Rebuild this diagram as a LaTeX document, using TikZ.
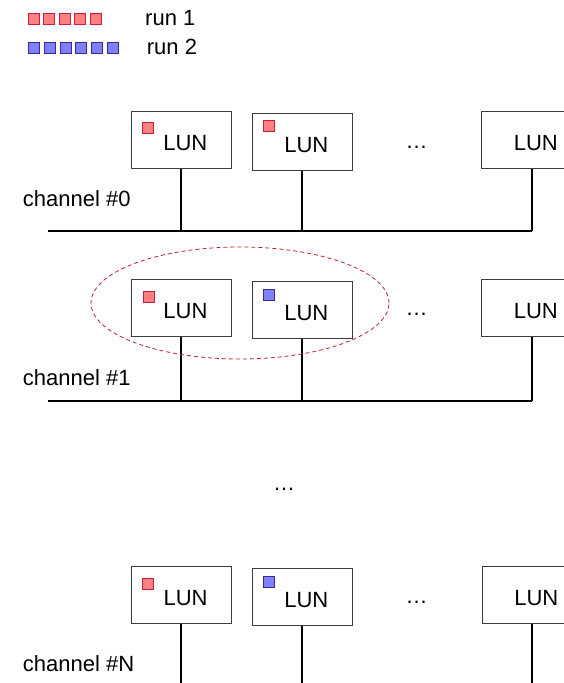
\documentclass[tikz,border=0pt]{standalone}
\usepackage{fontspec}
\setmainfont{Liberation Sans}
\usetikzlibrary{shapes.geometric}

\definecolor{redfill}{RGB}{255,128,128}
\definecolor{redline}{RGB}{200,30,60}
\definecolor{bluefill}{RGB}{128,128,255}
\definecolor{blueline}{RGB}{60,40,140}
\definecolor{boxline}{RGB}{60,60,60}
\definecolor{groupline}{RGB}{190,30,50}

\tikzset{
  lunbox/.style={draw=boxline, line width=1pt, minimum width=100pt,
    minimum height=57pt, inner sep=0pt},
  lunlabel/.style={anchor=base, inner sep=0pt},
  txt/.style={anchor=base west, inner sep=0pt},
  dots/.style={anchor=base, inner sep=0pt},
  sqred/.style={draw=redline, fill=redfill, line width=0.8pt,
    minimum size=11pt, inner sep=0pt},
  sqblue/.style={draw=blueline, fill=bluefill, line width=0.8pt,
    minimum size=11pt, inner sep=0pt},
  wire/.style={line width=2pt},
  group/.style={draw=groupline, line width=0.8pt, dash pattern=on 4pt off 3pt,
    ellipse, minimum width=298pt, minimum height=112pt, inner sep=0pt},
}

\begin{document}
\begin{tikzpicture}[x=1pt, y=-1pt, font=\fontsize{22}{26}\selectfont]
  \clip (0,0) rectangle (564,683);

  % legend
  \foreach \i in {0,...,4}
    \node[sqred] (lr\i) at (33.8+15.5*\i, 18.5) {};
  \foreach \i in {0,...,5}
    \node[sqblue] (lb\i) at (33.8+15.8*\i, 48) {};
  \node[txt] (run1) at (145, 25) {run 1};
  \node[txt] (run2) at (146.7, 54) {run 2};

  % ---- channel #0 ----
  \node[lunbox] (b01) at (181, 139.5) {};
  \node[lunbox] (b02) at (302, 141.5) {};
  \node[lunbox] (b03) at (531.5, 139.5) {};
  \foreach \b in {b01,b02,b03}
    \node[lunlabel] (\b l) at ([xshift=4.3pt, yshift=-39.5pt]\b.north) {LUN};
  \node[sqred] (q01) at ([xshift=17.5pt, yshift=-17.5pt]b01.north west) {};
  \node[sqred] (q02) at ([xshift=17.5pt, yshift=-13.5pt]b02.north west) {};
  \node[dots] (d0) at (416.5, 148) {…};
  \node[txt] (ch0) at (22.7, 206) {channel \#0};
  \coordinate (bus0) at (48.3, 231);
  \foreach \b in {b01,b02,b03}
    \draw[wire] (\b.south) -- (\b.south |- bus0) coordinate (\b s);
  \draw[wire] (bus0) -- (b03s);

  % ---- channel #1 ----
  \node[lunbox] (b11) at (181.2, 308) {};
  \node[lunbox] (b12) at (302, 310.3) {};
  \node[lunbox] (b13) at (531.5, 308) {};
  \foreach \b in {b11,b12,b13}
    \node[lunlabel] (\b l) at ([xshift=4.3pt, yshift=-39.5pt]\b.north) {LUN};
  \node[sqred] (q11) at ([xshift=17.8pt, yshift=-17.5pt]b11.north west) {};
  \node[sqblue] (q12) at ([xshift=17.8pt, yshift=-13.5pt]b12.north west) {};
  \node[dots] (d1) at (416.5, 315.5) {…};
  \node[txt] (ch1) at (22.7, 385) {channel \#1};
  \coordinate (bus1) at (48.3, 401);
  \foreach \b in {b11,b12,b13}
    \draw[wire] (\b.south) -- (\b.south |- bus1) coordinate (\b s);
  \draw[wire] (bus1) -- (b13s);
  \node[group] (grp) at (240, 303) {};

  % gap between channels
  \node[dots] (dmid) at (284, 490.5) {…};

  % ---- channel #N ----
  \node[lunbox] (bN1) at (181.3, 594.7) {};
  \node[lunbox] (bN2) at (302, 597) {};
  \node[lunbox] (bN3) at (532, 594.5) {};
  \foreach \b in {bN1,bN2,bN3}
    \node[lunlabel] (\b l) at ([xshift=4.3pt, yshift=-39.5pt]\b.north) {LUN};
  \node[sqred] (qN1) at ([xshift=17.5pt, yshift=-18pt]bN1.north west) {};
  \node[sqblue] (qN2) at ([xshift=17.5pt, yshift=-13.8pt]bN2.north west) {};
  \node[dots] (dN) at (416.5, 603.5) {…};
  \node[txt] (chN) at (22.7, 671.5) {channel \#N};
  \coordinate (busN) at (48.3, 690);
  \foreach \b in {bN1,bN2,bN3}
    \draw[wire] (\b.south) -- (\b.south |- busN);
\end{tikzpicture}
\end{document}
